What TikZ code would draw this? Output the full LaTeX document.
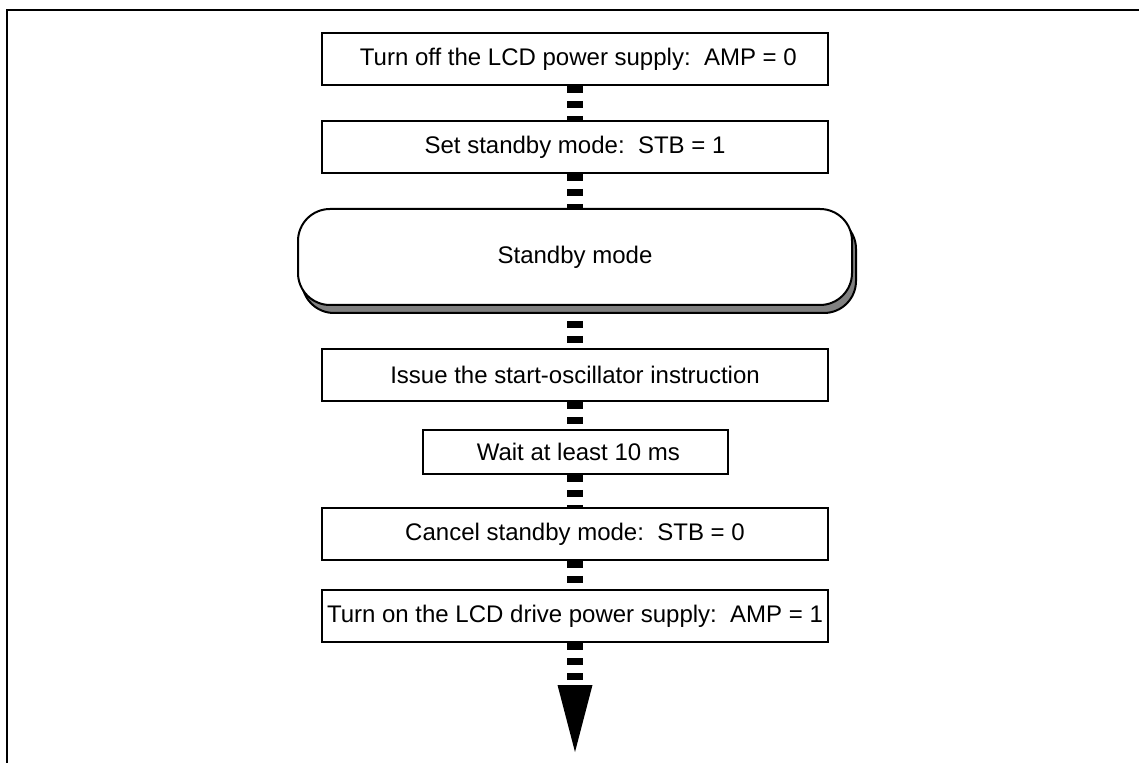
\documentclass[tikz,border=0pt]{standalone}
\usepackage{fontspec}
\setmainfont{Liberation Sans}
\usetikzlibrary{
  arrows.meta,
  positioning,
  shadows,
  backgrounds
}
\definecolor{sbLine}{HTML}{000000}
\definecolor{sbShadow}{HTML}{808080}
\tikzset{
  sbnode/.style={
    draw=sbLine, line width=1pt, fill=white, inner sep=0pt,
    minimum width=253pt, minimum height=26pt,
    font=\fontsize{12}{14}\selectfont, align=center
  },
  stepbox/.style={sbnode},
  waitbox/.style={sbnode, minimum width=152.5pt, minimum height=22pt},
  modebox/.style={
    sbnode, rounded corners=16pt, minimum width=277pt, minimum height=48pt,
    drop shadow={shadow xshift=2pt, shadow yshift=-4pt, fill=sbShadow, draw=sbLine, opacity=1}
  },
  dashflow/.style={line width=8pt, dash pattern=on 3.5pt off 4pt, sbLine},
  endtip/.style={-{Triangle[length=33.5pt, width=17.5pt, line width=0pt]}},
  frameline/.style={line width=1.4pt, sbLine, line join=miter}
}
\begin{document}
\begin{tikzpicture}[x=0.5pt, y=-0.5pt, node distance=17pt]
  \useasboundingbox (0,0) rectangle (1139,763);
  \draw[frameline] (7,763) -- (7,10) -- (1139,10);

  \node[stepbox] (off) at (575,59) {\ Turn off the LCD power supply:~~AMP = 0};
  \node[stepbox, below=of off] (standby) {Set standby mode:~~STB = 1};
  \node[modebox, below=of standby] (mode) {Standby mode};
  \node[stepbox, below=21pt of mode] (osc) {Issue the start-oscillator instruction};
  \node[waitbox, below=13.5pt of osc] (wait) {\ Wait at least 10 ms};
  \node[stepbox, below=16pt of wait] (cancel) {Cancel standby mode:~~STB = 0};
  \node[stepbox, below=14pt of cancel] (on) {Turn on the LCD drive power supply:~~AMP = 1};
  \coordinate (end) at (575,752);

  \begin{scope}[on background layer]
    \foreach \s/\e in {off/standby, standby/mode, mode/osc, osc/wait, wait/cancel, cancel/on}{\draw[dashflow] (\s) -- (\e);}
  \end{scope}
  \draw[dashflow, endtip] (on) -- (end);
\end{tikzpicture}
\end{document}
